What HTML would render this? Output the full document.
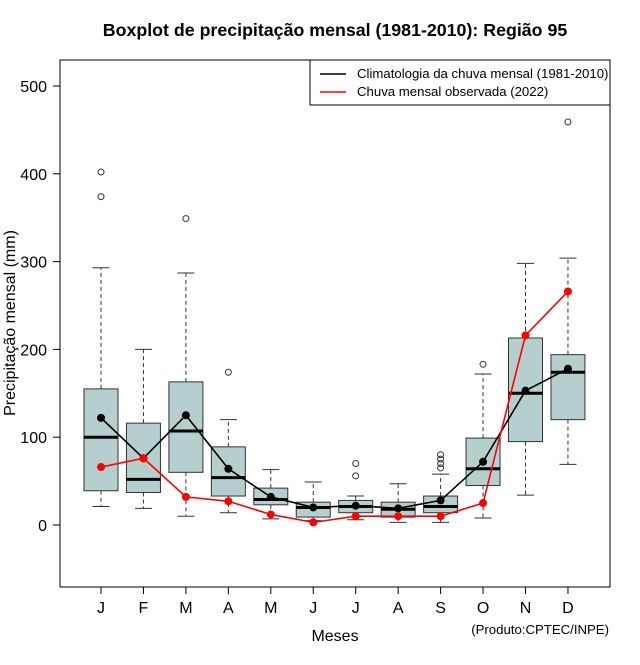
<!DOCTYPE html>
<html><head><meta charset="utf-8">
<style>
html,body{margin:0;padding:0;background:#fff;}
svg text{font-family:"Liberation Sans",Arial,sans-serif;}
</style></head>
<body>
<svg id="chart" width="640" height="660" xmlns="http://www.w3.org/2000/svg">
<text x="335" y="36" text-anchor="middle" font-size="17.8" font-weight="bold">Boxplot de precipitação mensal (1981-2010): Região 95</text>
<rect x="60" y="60" width="550" height="527" fill="none" stroke="#000" stroke-width="1"/>
<g id="yaxis"></g>
<g id="xaxis"></g>
<g id="boxes"></g>
<g id="lines"></g>
<text transform="translate(15,323) rotate(-90)" text-anchor="middle" font-size="16">Precipitação mensal (mm)</text>
<text x="335" y="641" text-anchor="middle" font-size="16">Meses</text>
<text x="609" y="634" text-anchor="end" font-size="13.2">(Produto:CPTEC/INPE)</text>
<g>
<rect x="310" y="60" width="300" height="45" fill="#fff" stroke="#000"/>
<line x1="320" y1="74" x2="346" y2="74" stroke="#000" stroke-width="1.5"/>
<text x="357" y="78" font-size="13.2">Climatologia da chuva mensal (1981-2010)</text>
<line x1="320" y1="92" x2="346" y2="92" stroke="#f00" stroke-width="1.5"/>
<text x="357" y="96" font-size="13.2">Chuva mensal observada (2022)</text>
</g>
</svg>
<script>
const months=["J","F","M","A","M","J","J","A","S","O","N","D"];
const whiskLow=[21,19,10,14,7,5,6,3,3,8,34,69];
const q1=[39,37,60,33,23,9,14,9,14,45,95,120];
const median=[100,52,107,54,29,20,21,18,21,64,150,174];
const q3=[155,116,163,89,42,26,28,26,33,99,213,194];
const whiskHigh=[293,200,287,120,63,49,33,47,58,172,298,304];
const outliers=[[402,374],[],[349],[174],[],[],[70,56],[],[80,75,70,65],[183],[],[459]];
const climMean=[122,76,125,64,32,20,22,19,28,72,153,178];
const observed=[66,76,32,27,12,3,10,10,10,25,216,266];
const yTicks=[0,100,200,300,400,500];

const NS="http://www.w3.org/2000/svg";
const y=v=>525-v*0.878;
const x=i=>101+i*42.45;
function mk(tag,attrs,parent){const e=document.createElementNS(NS,tag);for(const k in attrs)e.setAttribute(k,attrs[k]);parent.appendChild(e);return e;}
const ya=document.getElementById('yaxis'),xa=document.getElementById('xaxis'),bx=document.getElementById('boxes'),ln=document.getElementById('lines');
yTicks.forEach(t=>{
  const l=mk('line',{x1:53,x2:60,y1:y(t),y2:y(t),stroke:'#000'},ya);
  
  
  const tx=mk('text',{x:47,y:y(t)+6,'text-anchor':'end','font-size':16},ya);
  tx.textContent=t;
  
  
});
months.forEach((m,i)=>{
  const l=mk('line',{x1:x(i),x2:x(i),y1:587,y2:594,stroke:'#000'},xa);
  
  
  const tx=mk('text',{x:x(i),y:613,'text-anchor':'middle','font-size':16},xa);
  tx.textContent=m;
  
  
  const g=mk('g',{},bx);
  
  
  const cx=x(i),hw=17,cw=8.5;
  mk('line',{x1:cx,x2:cx,y1:y(q3[i]),y2:y(whiskHigh[i]),stroke:'#333','stroke-dasharray':'4,3'},g);
  mk('line',{x1:cx,x2:cx,y1:y(q1[i]),y2:y(whiskLow[i]),stroke:'#333','stroke-dasharray':'4,3'},g);
  mk('line',{x1:cx-cw,x2:cx+cw,y1:y(whiskHigh[i]),y2:y(whiskHigh[i]),stroke:'#333'},g);
  mk('line',{x1:cx-cw,x2:cx+cw,y1:y(whiskLow[i]),y2:y(whiskLow[i]),stroke:'#333'},g);
  mk('rect',{x:cx-hw,y:y(q3[i]),width:2*hw,height:y(q1[i])-y(q3[i]),fill:'#b5cfcf',stroke:'#333'},g);
  mk('line',{x1:cx-hw,x2:cx+hw,y1:y(median[i]),y2:y(median[i]),stroke:'#000','stroke-width':3},g);
  outliers[i].forEach(o=>{
    const c=mk('circle',{cx:cx,cy:y(o),r:3,fill:'none',stroke:'#333'},g);
    
    
  });
});
function series(vals,color,name){
  const p=mk('polyline',{points:vals.map((v,i)=>x(i)+','+y(v)).join(' '),fill:'none',stroke:color,'stroke-width':1.6},ln);
  
  
  vals.forEach((v,i)=>{
    const c=mk('circle',{cx:x(i),cy:y(v),r:4,fill:color},ln);
    
    
  });
}
series(climMean,'#000','climatology');
series(observed,'#f00','observed');
</script>
</body></html>
